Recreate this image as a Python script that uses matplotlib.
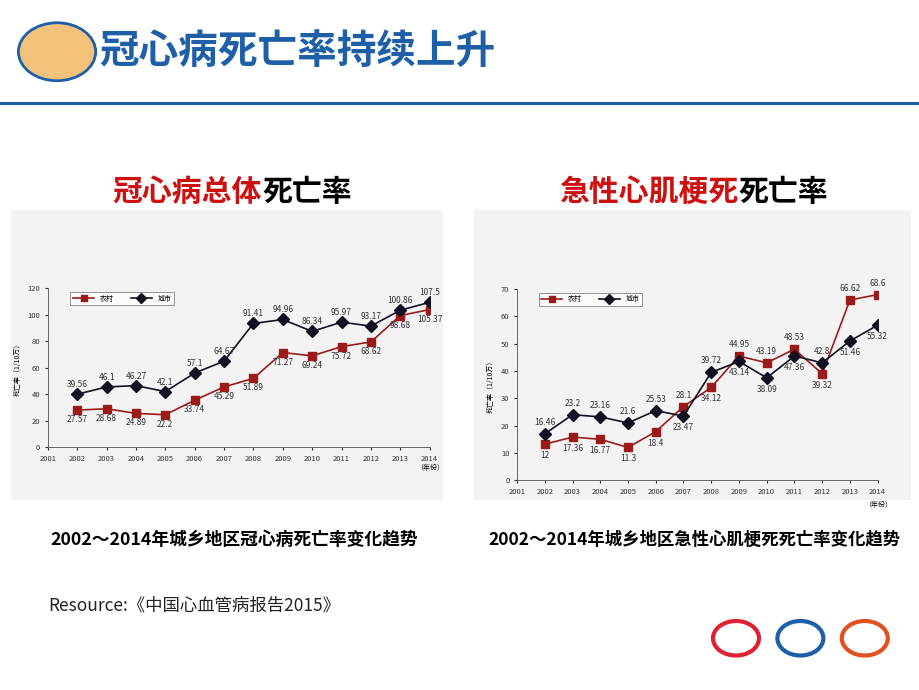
import matplotlib
matplotlib.use("Agg")
import matplotlib.pyplot as plt
from matplotlib import font_manager as fm
from matplotlib.patches import Rectangle, Circle

cjk = sorted(set(f.name for f in fm.fontManager.ttflist if 'Sans CJK' in f.name))
pref = [n for n in cjk if n.endswith('SC')] or cjk
plt.rcParams['font.family'] = 'sans-serif'
plt.rcParams['font.sans-serif'] = (pref[:1] if pref else []) + ['DejaVu Sans']

years = list(range(2002, 2015))
# left chart: CHD total mortality (plotted positions and printed labels)
chd_urban = [40, 45.5, 46.5, 42, 56, 65, 93.5, 96.5, 87.5, 94.5, 91.5, 103.5, 109.5]
chd_rural = [28, 29, 25.5, 24.5, 35.5, 45.5, 52, 71.5, 69, 76, 79.5, 99.5, 104]
chd_urban_lbl = ["39.56", "46.1", "46.27", "42.1", "57.1", "64.67", "91.41", "94.96", "86.34", "95.97", "93.17", "100.86", "107.5"]
chd_rural_lbl = ["27.57", "28.68", "24.89", "22.2", "33.74", "45.29", "51.89", "71.27", "69.24", "75.72", "68.62", "98.68", "105.37"]
# right chart: AMI mortality
ami_urban = [17, 24, 23.2, 21, 25.5, 23.5, 39.5, 43.5, 37.5, 45.5, 43, 51, 56.8]
ami_rural = [13.2, 15.8, 15, 12, 17.8, 27, 34, 45.5, 43, 48, 39, 66, 68]
ami_urban_lbl = ["16.46", "23.2", "23.16", "21.6", "25.53", "23.47", "39.72", "43.14", "38.09", "47.36", "42.8", "51.46", "55.32"]
ami_rural_lbl = ["12", "17.36", "16.77", "11.3", "18.4", "28.1", "34.12", "44.95", "43.19", "48.53", "39.32", "66.62", "68.6"]
ami_urban_pos = [1, 1, 1, 1, 1, -1, 1, -1, -1, -1, 1, -1, -1]
ami_rural_pos = [-1, -1, -1, -1, -1, 1, -1, 1, 1, 1, -1, 1, 1]

RED = '#9b1b1b'
BLK = '#111122'

fig = plt.figure(figsize=(9.2, 6.9), dpi=100)
fig.patch.set_facecolor('white')

# header
fig.text(0.108, 0.925, "冠心病死亡率持续上升", fontsize=28.5, fontweight='bold', color='#1f5fa8', va='center')
fig.add_artist(Circle((0.062, 0.925), 0.042, transform=fig.transFigure, fc='#f3c27a', ec='#1f5fa8', lw=2))
fig.add_artist(Rectangle((0, 0.848), 1, 0.004, transform=fig.transFigure, fc='#1f5fa8', ec='none'))

# chart backgrounds
fig.add_artist(Rectangle((0.012, 0.275), 0.47, 0.42, transform=fig.transFigure, fc='#f3f3f3', ec='none', zorder=0))
fig.add_artist(Rectangle((0.515, 0.275), 0.475, 0.42, transform=fig.transFigure, fc='#f3f3f3', ec='none', zorder=0))

# subtitles
def two_color(x, y, red, black):
    fig.text(x, y, red, fontsize=21.5, fontweight='bold', color='#cc1111', ha='right', va='center')
    fig.text(x, y, black, fontsize=21.5, fontweight='bold', color='black', ha='left', va='center')
two_color(0.285, 0.722, "冠心病总体", "死亡率")
two_color(0.803, 0.722, "急性心肌梗死", "死亡率")

def chart(rect, ymax, ystep, urban, rural, ulbl, rlbl, upos, rpos, legx):
    ax = fig.add_axes(rect)
    ax.set_facecolor('none')
    ax.plot(years, rural, color=RED, marker='s', ms=6, lw=1.2, label='农村', mec=RED)
    ax.plot(years, urban, color=BLK, marker='D', ms=6, lw=1.2, label='城市')
    off = ymax * 0.06
    for x, y, l, p in zip(years, urban, ulbl, upos):
        ax.text(x, y + p * off, l, fontsize=6, ha='center', va='center', color='#333')
    for x, y, l, p in zip(years, rural, rlbl, rpos):
        ax.text(x, y + p * off, l, fontsize=6, ha='center', va='center', color='#333')
    ax.set_xlim(2001, 2014)
    ax.set_ylim(0, ymax)
    ax.set_xticks(range(2001, 2015))
    ax.set_yticks(range(0, ymax + 1, ystep))
    ax.tick_params(labelsize=5.5, length=2, colors='#333')
    for s in ['top', 'right']:
        ax.spines[s].set_visible(False)
    for s in ['left', 'bottom']:
        ax.spines[s].set_color('#666')
        ax.spines[s].set_linewidth(0.7)
    ax.set_ylabel("死亡率（1/10万）", fontsize=5)
    ax.text(2014, -ymax * 0.13, "（年份）", fontsize=5, ha='center', va='center')
    ax.legend(loc='upper left', bbox_to_anchor=(legx, 1.0), ncol=2, fontsize=5, frameon=True,
              fancybox=False, edgecolor='#666', markerscale=0.8, handlelength=3, columnspacing=2.5)
    ax.get_legend().get_frame().set_linewidth(0.6)
    return ax

chart([0.052, 0.352, 0.415, 0.230], 120, 20, chd_urban, chd_rural, chd_urban_lbl, chd_rural_lbl,
      [1] * 13, [-1] * 13, 0.05)
chart([0.562, 0.304, 0.392, 0.277], 70, 10, ami_urban, ami_rural, ami_urban_lbl, ami_rural_lbl,
      ami_urban_pos, ami_rural_pos, 0.05)

# captions
fig.text(0.255, 0.218, "2002～2014年城乡地区冠心病死亡率变化趋势", fontsize=12.8, fontweight='bold', ha='center', va='center')
fig.text(0.755, 0.218, "2002～2014年城乡地区急性心肌梗死死亡率变化趋势", fontsize=12.5, fontweight='bold', ha='center', va='center')
fig.text(0.052, 0.122, "Resource:《中国心血管病报告2015》", fontsize=12.5, ha='left', va='center', color='#222')

# bottom-right logos (simple)
fig.add_artist(Circle((0.80, 0.075), 0.025, transform=fig.transFigure, fc='none', ec='#d23', lw=3))
fig.add_artist(Circle((0.87, 0.075), 0.025, transform=fig.transFigure, fc='none', ec='#1f5fa8', lw=3))
fig.add_artist(Circle((0.94, 0.075), 0.025, transform=fig.transFigure, fc='none', ec='#e05020', lw=3))

fig.savefig("out.png", dpi=100)
